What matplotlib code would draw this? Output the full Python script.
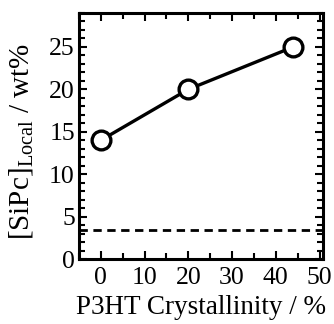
import matplotlib
matplotlib.use("Agg")
import matplotlib.pyplot as plt
from matplotlib.ticker import MultipleLocator

crystallinity = [0, 20, 44]
sipc_local = [14, 20, 25]
bulk_level = 3.4
xticks = [0, 10, 20, 30, 40, 50]
yticks = [0, 5, 10, 15, 20, 25]

plt.rcParams['font.family'] = ['Liberation Serif']
plt.rcParams['mathtext.fontset'] = 'custom'
plt.rcParams['mathtext.rm'] = 'Liberation Serif'
plt.rcParams['mathtext.it'] = 'Liberation Serif:italic'

fig = plt.figure(figsize=(3.34, 3.24), dpi=100)
ax = fig.add_axes([79/334, 1-259/324, (323-79)/334, (259-13)/324])

ax.axhline(bulk_level, color='black', lw=2.0, ls=(0, (3, 2)))
ax.plot(crystallinity, sipc_local, color='black', lw=2.4, marker='o', ms=13.5,
        mfc='white', mec='black', mew=2.4, zorder=3)

ax.set_xlim(-5, 50.8)
ax.set_ylim(0, 29)
ax.set_xticks(xticks)
ax.set_yticks(yticks)
ax.xaxis.set_minor_locator(MultipleLocator(5))
ax.yaxis.set_minor_locator(MultipleLocator(1))
ax.tick_params(which='both', direction='in', top=True, right=True, width=1.5, labelsize=18.5)
ax.tick_params(which='major', length=6)
ax.tick_params(axis='x', which='major', pad=6)
ax.tick_params(axis='y', which='major', pad=3)
ax.tick_params(which='minor', length=4)
for s in ax.spines.values():
    s.set_linewidth(2.2)

ax.set_xlabel('P3HT Crystallinity / %', fontsize=19.5, labelpad=4)
ax.set_ylabel(r'[SiPc]$_{\mathrm{Local}}$ / wt%', fontsize=21)
ax.yaxis.set_label_coords(-0.18, 0.48)

fig.savefig('out.png', dpi=100)
